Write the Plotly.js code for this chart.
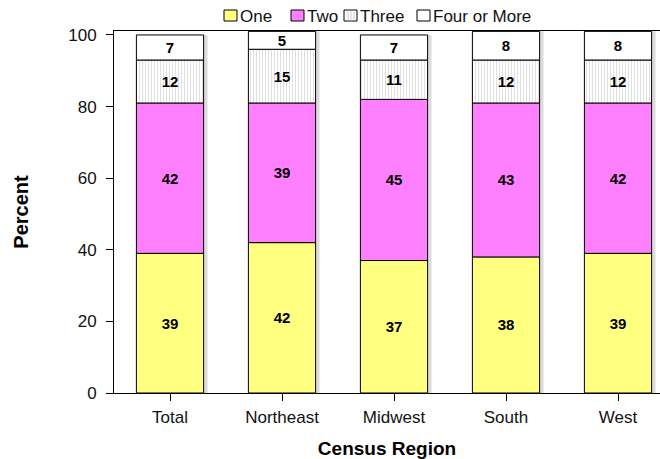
<!DOCTYPE html>
<html>
<head>
<meta charset="utf-8">
<script src="https://cdn.plot.ly/plotly-3.0.1.min.js"></script>
<style>html,body{margin:0;padding:0;background:#fff;}#chart{width:660px;height:459px;}</style>
</head>
<body>
<div id="chart"></div>
<script>
var regions = ["Total", "Northeast", "Midwest", "South", "West"];
var seriesNames = ["One", "Two", "Three", "Four or More"];
var one = [39, 42, 37, 38, 39];
var two = [42, 39, 45, 43, 42];
var three = [12, 15, 11, 12, 12];
var four = [7, 5, 7, 8, 8];
var yTicks = [0, 20, 40, 60, 80, 100];

var FONT = "Liberation Sans, Arial, sans-serif";
var labelFont = {family: FONT, size: 15, color: "#000", weight: "bold"};
var seriesColors = ["#FFFF80", "#FF80FF", "#FFFFFF", "#FFFFFF"];
var threePattern = {shape: "|", fgcolor: "#d6d6d6", bgcolor: "#FFFFFF", size: 3, solidity: 0.25};

var seriesVals = [one, two, three, four];
// cumulative bases for stacking
var bases = [];
var running = regions.map(function () { return 0; });
seriesVals.forEach(function (vals) {
  bases.push(running.slice());
  running = running.map(function (r, i) { return r + vals[i]; });
});
var totals = running;

var BW = 0.6;
var data = [];
// light shadow behind bars
data.push({
  type: "bar", x: regions, y: totals, base: 0,
  width: BW, offset: -BW / 2 + 0.035,
  marker: {color: "#dcdcdc", line: {width: 0}},
  showlegend: false, hoverinfo: "none"
});
seriesVals.forEach(function (vals, k) {
  var t = {
    type: "bar",
    name: seriesNames[k],
    x: regions,
    y: vals,
    base: bases[k],
    width: BW, offset: -BW / 2,
    text: vals.map(String),
    textposition: "inside",
    insidetextanchor: "middle",
    textangle: 0,
    constraintext: "none",
    textfont: labelFont,
    marker: {color: seriesColors[k], line: {color: "#000", width: 1}},
    showlegend: false,
    hoverinfo: "none"
  };
  if (k === 2) t.marker.pattern = threePattern;
  data.push(t);
});

// custom compact legend (pixel positions converted to paper coords)
var L = 114, PW = 546, B = 393, PH = 362;
function px(x) { return (x - L) / PW; }
function py(y) { return (B - y) / PH; }
var legendBoxX = [224, 291, 344, 417];
var shapes = [], annotations = [];
legendBoxX.forEach(function (bx, k) {
  shapes.push({type: "rect", xref: "paper", yref: "paper",
    x0: px(bx), x1: px(bx + 13), y0: py(21), y1: py(10),
    fillcolor: seriesColors[k], line: {color: "#000", width: 1}});
  if (k === 2) {
    [4, 7, 10].forEach(function (d) {
      shapes.push({type: "line", xref: "paper", yref: "paper",
        x0: px(bx + d), x1: px(bx + d), y0: py(20.5), y1: py(10.5),
        line: {color: "#cccccc", width: 1}});
    });
  }
  annotations.push({xref: "paper", yref: "paper", x: px(bx + 14), y: py(16),
    xanchor: "left", yanchor: "middle", showarrow: false, text: seriesNames[k],
    font: {family: FONT, size: 17, color: "#111"}});
});

var layout = {
  width: 660,
  height: 459,
  margin: {l: 114, r: 0, t: 31, b: 66, autoexpand: false},
  paper_bgcolor: "#fff",
  plot_bgcolor: "#fff",
  barmode: "overlay",
  font: {family: FONT, size: 17, color: "#111"},
  showlegend: false,
  shapes: shapes,
  annotations: annotations,
  xaxis: {
    type: "category",
    range: [-0.5, 4.375],
    showline: true, linecolor: "#000", linewidth: 1, mirror: true,
    ticks: "outside", ticklen: 7, tickcolor: "#000",
    ticklabelstandoff: 2,
    showgrid: false, zeroline: false,
    tickfont: {family: FONT, size: 17, color: "#111"},
    title: {text: "Census Region", font: {family: FONT, size: 19, color: "#000", weight: "bold"}, standoff: 16}
  },
  yaxis: {
    range: [0, 101.1],
    tickvals: yTicks,
    ticktext: yTicks.map(String),
    showline: true, linecolor: "#000", linewidth: 1,
    ticks: "outside", ticklen: 7, tickcolor: "#000",
    ticklabelstandoff: 6,
    showgrid: false, zeroline: false,
    tickfont: {family: FONT, size: 17, color: "#111"},
    title: {text: "Percent", font: {family: FONT, size: 20, color: "#000", weight: "bold"}, standoff: 34}
  }
};

Plotly.newPlot("chart", data, layout, {displayModeBar: false, staticPlot: true});
</script>
</body>
</html>
